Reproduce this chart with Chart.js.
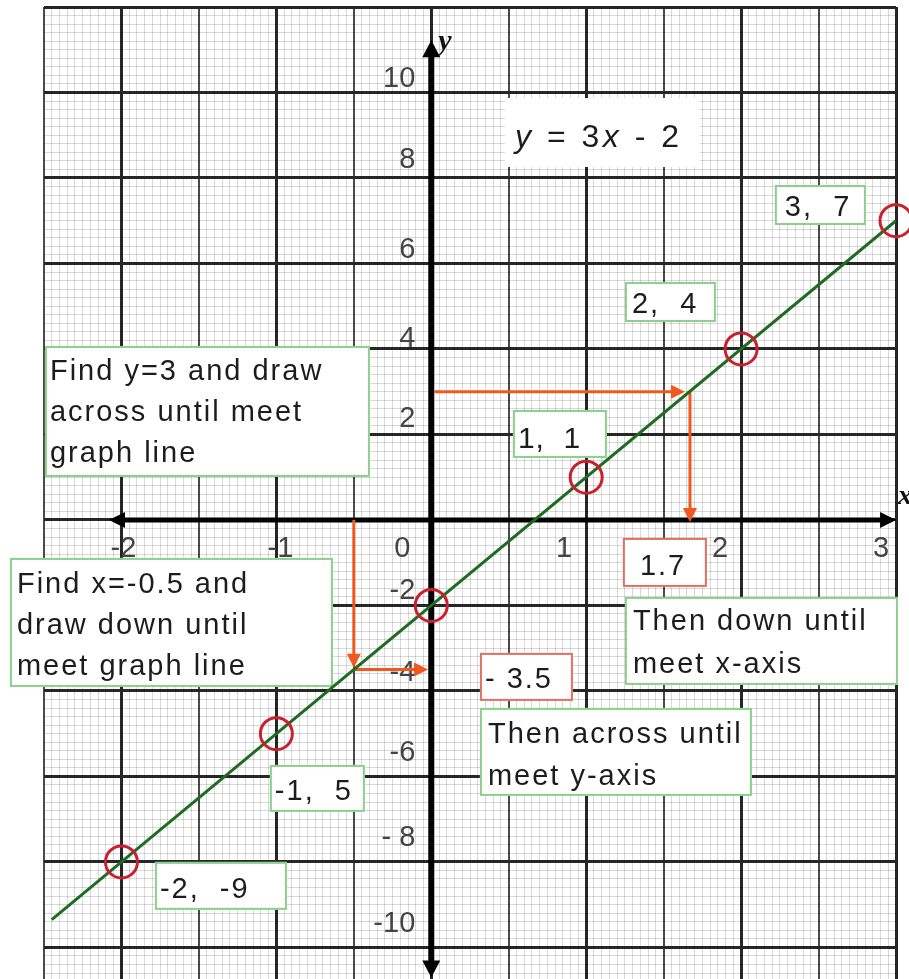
<!DOCTYPE html>
<html>
<head>
<meta charset="utf-8">
<title>y = 3x - 2</title>
<script src="https://cdn.jsdelivr.net/npm/chart.js@4.4.1/dist/chart.umd.min.js"></script>
<style>
  html, body { margin: 0; padding: 0; background: #fff; }
  #wrap { width: 909px; height: 979px; position: relative; }
</style>
</head>
<body>
<div id="wrap"><canvas id="graph"></canvas></div>
<script>
// graph line y = 3x - 2, as drawn
const lineX = [-2.45, 3];
const lineY = [-9.35, 7];

// circled points
const pointX = [-2, -1, 0, 1, 2, 3];
const pointY = [-8, -5, -2, 1, 4, 7];

// orange construction arrows
const acrossX = [0.02, 1.618];
const acrossY = [3, 3];
const downX = [1.67, 1.67];
const downY = [3, 0.02];
const dropX = [-0.5, -0.5];
const dropY = [0, -3.39];
const toAxisX = [-0.5, -0.04];
const toAxisY = [-3.5, -3.5];

// drawn axes
const xAxisX = [-2.048, 2.968];
const xAxisY = [0, 0];
const yAxisX = [0, 0];
const yAxisY = [11.09, -10.57];

// tick labels
const xTickValues = [-2, -1, 0, 1, 2, 3];
const xTickLabels = ['-2', '-1', '0', '1', '2', '3'];
const yTickValues = [10, 8, 6, 4, 2, -2, -4, -6, -8, -10];
const yTickLabels = ['10', '8', '6', '4', '2', '-2', '-4', '-6', '- 8', '-10'];

const FONT = '"Liberation Sans", Arial, sans-serif';

function pts(xs, ys) {
    return xs.map((x, i) => ({ x: x, y: ys[i] }));
}

function near(v, step) {
    const r = v / step;
    return Math.abs(r - Math.round(r)) < 1e-6;
}

// arrow heads at the end of a dataset's line
const arrowHeads = {
    id: 'arrowHeads',
    afterDatasetDraw(chart, args) {
        const ds = chart.data.datasets[args.index];
        if (!ds.arrow) return;
        const el = args.meta.data;
        const n = el.length;
        const ends = [[n - 1, n - 2]];
        if (ds.arrow === 'both') ends.push([0, 1]);
        const ctx = chart.ctx;
        ctx.save();
        ctx.fillStyle = ds.borderColor;
        ends.forEach(([a, b]) => {
            const p = el[a], q = el[b];
            const dx = p.x - q.x, dy = p.y - q.y;
            const d = Math.hypot(dx, dy);
            const ux = dx / d, uy = dy / d;
            const L = ds.headLength, W = ds.headWidth;
            const ext = L * ds.borderWidth / 2 / W;
            const tx = p.x + ux * ext, ty = p.y + uy * ext;
            ctx.beginPath();
            ctx.moveTo(tx, ty);
            ctx.lineTo(tx - ux * L - uy * W, ty - uy * L + ux * W);
            ctx.lineTo(tx - ux * L + uy * W, ty - uy * L - ux * W);
            ctx.closePath();
            ctx.fill();
        });
        ctx.restore();
    }
};

// tick numbers, axis letters and the note boxes
const paperText = {
    id: 'paperText',
    beforeDatasetsDraw(chart, args, opts) {
        const ctx = chart.ctx;
        const xs = chart.scales.x, ys = chart.scales.y;
        const x0 = xs.getPixelForValue(0), y0 = ys.getPixelForValue(0);
        ctx.save();
        ctx.fillStyle = '#444';
        ctx.font = '29px ' + FONT;
        ctx.textBaseline = 'middle';
        ctx.textAlign = 'center';
        xTickValues.forEach((v, i) => {
            ctx.fillText(xTickLabels[i], xs.getPixelForValue(v) + opts.xNudge[i], y0 + 29);
        });
        ctx.textAlign = 'right';
        yTickValues.forEach((v, i) => {
            ctx.fillText(yTickLabels[i], x0 - 16, ys.getPixelForValue(v) + opts.yNudge[i]);
        });

        // note boxes
        ctx.textBaseline = 'alphabetic';
        ctx.textAlign = 'left';
        opts.notes.forEach(n => {
            const left = xs.getPixelForValue(n.x);
            const top = ys.getPixelForValue(n.y);
            ctx.fillStyle = '#fff';
            ctx.fillRect(left, top, n.w, n.h);
            if (n.border) {
                ctx.strokeStyle = n.border;
                ctx.lineWidth = 2;
                ctx.strokeRect(left + 1, top + 1, n.w - 2, n.h - 2);
            }
            ctx.fillStyle = '#1c1c1c';
            ctx.letterSpacing = (n.spacing || 2) + 'px';
            if (n.parts) {
                let cx = left + n.dx;
                n.parts.forEach(p => {
                    ctx.font = (p.italic ? 'italic ' : '') + n.size + 'px ' + FONT;
                    ctx.fillText(p.t, cx, top + n.base);
                    cx += ctx.measureText(p.t).width;
                });
            } else {
                ctx.font = n.size + 'px ' + FONT;
                n.lines.forEach((t, i) => {
                    ctx.fillText(t, left + n.dx, top + n.base + i * (n.lh || 0));
                });
            }
            ctx.letterSpacing = '0px';
        });

        // axis letters
        ctx.fillStyle = '#111';
        ctx.font = 'italic bold 30px "Liberation Serif", "Times New Roman", serif';
        ctx.fillText('y', x0 + 7, ys.getPixelForValue(11.0));
        ctx.font = 'italic bold 28px "Liberation Serif", "Times New Roman", serif';
        ctx.fillText('x', xs.getPixelForValue(3) + 2, y0 - 16);
        ctx.restore();
    }
};

const GREEN_EDGE = '#8ccf8c';
const RED_EDGE = '#e2705f';
const ORANGE = '#f0581e';

const notes = [
    { x: 0.476, y: 9.871, w: 195, h: 69, dx: 10, base: 49, size: 32, spacing: 3.5,
      parts: [{ t: 'y', italic: true }, { t: ' = 3' }, { t: 'x', italic: true }, { t: ' - 2' }] },
    { x: 2.218, y: 7.836, w: 91, h: 40, dx: 10, base: 31, size: 29, border: GREEN_EDGE, lines: ['3,  7'] },
    { x: 1.250, y: 5.567, w: 91, h: 40, dx: 7, base: 31, size: 29, border: GREEN_EDGE, lines: ['2,  4'] },
    { x: 0.527, y: 2.573, w: 94, h: 48, dx: 5, base: 38, size: 30, spacing: 1, border: GREEN_EDGE, lines: ['1,  1'] },
    { x: -2.494, y: 4.070, w: 325, h: 131, dx: 5, base: 34, lh: 41, size: 29, border: GREEN_EDGE,
      lines: ['Find y=3 and draw', 'across until meet', 'graph line'] },
    { x: -2.720, y: -0.889, w: 323, h: 129, dx: 7, base: 35, lh: 41, size: 29, border: GREEN_EDGE,
      lines: ['Find x=-0.5 and', 'draw down until', 'meet graph line'] },
    { x: 1.237, y: -0.421, w: 84, h: 49, dx: 17, base: 37, size: 29, border: RED_EDGE, lines: ['1.7'] },
    { x: 1.250, y: -1.801, w: 273, h: 88, dx: 8, base: 33, lh: 43, size: 29, border: GREEN_EDGE,
      lines: ['Then down until', 'meet x-axis'] },
    { x: 0.314, y: -3.111, w: 93, h: 48, dx: 5, base: 35, size: 29, border: RED_EDGE, lines: ['- 3.5'] },
    { x: 0.314, y: -4.398, w: 272, h: 88, dx: 8, base: 35, lh: 42, size: 29, border: GREEN_EDGE,
      lines: ['Then across until', 'meet y-axis'] },
    { x: -1.042, y: -5.731, w: 95, h: 47, dx: 5, base: 35, size: 29, border: GREEN_EDGE, lines: ['-1,  5'] },
    { x: -1.784, y: -8.0, w: 132, h: 48, dx: 5, base: 36, size: 29, border: GREEN_EDGE, lines: ['-2,  -9'] }
];

function orangeArrow(xs, ys) {
    return {
        data: pts(xs, ys),
        showLine: true,
        borderColor: ORANGE,
        borderWidth: 3,
        pointRadius: 0,
        arrow: 'end',
        headLength: 14,
        headWidth: 7
    };
}

const graph = new Chart(document.getElementById('graph'), {
    type: 'scatter',
    data: {
        datasets: [
            {
                data: pts(pointX, pointY),
                pointRadius: 16,
                pointBorderWidth: 3,
                pointBorderColor: '#cc1f2e',
                pointBackgroundColor: 'rgba(0,0,0,0)',
                clip: false
            },
            {
                data: pts(lineX, lineY),
                showLine: true,
                borderColor: '#1f6b22',
                borderWidth: 3,
                pointRadius: 0
            },
            orangeArrow(acrossX, acrossY),
            orangeArrow(downX, downY),
            orangeArrow(dropX, dropY),
            orangeArrow(toAxisX, toAxisY),
            {
                data: pts(xAxisX, xAxisY),
                showLine: true,
                borderColor: '#000',
                borderWidth: 5,
                pointRadius: 0,
                arrow: 'both',
                headLength: 16,
                headWidth: 8,
                clip: false
            },
            {
                data: pts(yAxisX, yAxisY),
                showLine: true,
                borderColor: '#000',
                borderWidth: 6,
                pointRadius: 0,
                arrow: 'both',
                headLength: 17,
                headWidth: 9,
                clip: false
            }
        ]
    },
    options: {
        responsive: true,
        maintainAspectRatio: false,
        animation: false,
        layout: {
            autoPadding: false,
            padding: { left: 44, right: 13, top: 7, bottom: 0 }
        },
        plugins: {
            legend: { display: false },
            tooltip: { enabled: false },
            paperText: {
                xNudge: [2, 4, -29, -22, -21, -15],
                yNudge: [-13, -18, -13, -10, -15, -14, -18, -23, -24, -23],
                notes: notes
            }
        },
        scales: {
            x: {
                type: 'linear',
                min: -2.5,
                max: 3,
                ticks: { display: false, autoSkip: false },
                border: { display: false },
                afterBuildTicks: axis => {
                    const t = [];
                    for (let i = -50; i <= 60; i++) t.push({ value: Math.round(i * 5) / 100 });
                    axis.ticks = t;
                },
                grid: {
                    drawTicks: false,
                    color: c => {
                        const v = c.tick ? c.tick.value : 0.1;
                        if (near(v, 1)) return '#262626';
                        if (near(v, 0.5)) return '#4a4a4a';
                        return 'rgba(0,0,0,0.15)';
                    },
                    lineWidth: c => {
                        const v = c.tick ? c.tick.value : 0.1;
                        if (near(v, 1)) return 3;
                        if (near(v, 0.5)) return 2;
                        return 1;
                    }
                }
            },
            y: {
                type: 'linear',
                min: -10.74,
                max: 12,
                ticks: { display: false, autoSkip: false },
                border: { display: false },
                afterBuildTicks: axis => {
                    const t = [];
                    for (let i = -53; i <= 60; i++) t.push({ value: Math.round(i * 20) / 100 });
                    axis.ticks = t;
                },
                grid: {
                    drawTicks: false,
                    color: c => {
                        const v = c.tick ? c.tick.value : 0.1;
                        if (near(v, 2)) return '#262626';
                        return 'rgba(0,0,0,0.15)';
                    },
                    lineWidth: c => {
                        const v = c.tick ? c.tick.value : 0.1;
                        return near(v, 2) ? 3 : 1;
                    }
                }
            }
        }
    },
    plugins: [arrowHeads, paperText]
});
</script>
</body>
</html>
